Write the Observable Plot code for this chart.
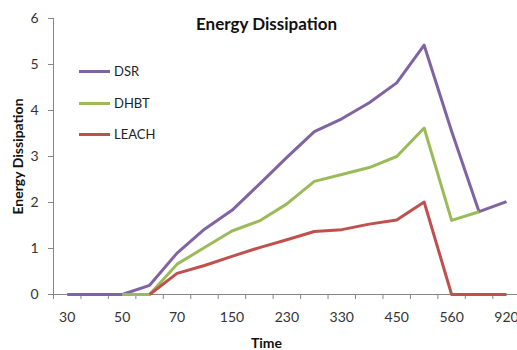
<!DOCTYPE html>
<html>
<head>
<meta charset="utf-8">
<script src="https://cdn.jsdelivr.net/npm/d3@7"></script>
<script src="https://cdn.jsdelivr.net/npm/@observablehq/plot@0.6"></script>
<style>
  html, body { margin: 0; padding: 0; background: #fff; }
  #wrap { position: relative; width: 517px; height: 350px; font-family: Lato, "Open Sans", sans-serif; }
  #legend { position: absolute; left: 79px; top: 62px; font-size: 13px; color: #222; }
  .item { position: relative; height: 31.5px; }
  .sw { position: absolute; left: 0; top: 8px; width: 31px; height: 3px; }
  .lab { position: absolute; left: 35px; top: 0; line-height: 18px; }
</style>
</head>
<body>
<div id="wrap"></div>
<script>
const categories = ["30","","50","","70","","150","","230","","330","","450","","560","","920"];
const seriesNames = ["DSR","DHBT","LEACH"];
const seriesColors = ["#8064A2","#9BBB59","#C0504D"];
const dsr   = [0, 0, 0, 0.2, 0.9, 1.42, 1.83, 2.4, 2.98, 3.54, 3.82, 4.17, 4.6, 5.42, 3.55, 1.8, 2.02];
const dhbt  = [null, null, 0, 0, 0.66, 1.02, 1.38, 1.6, 1.97, 2.46, 2.61, 2.76, 3.0, 3.62, 1.61, 1.8, null];
const leach = [null, null, null, 0, 0.46, 0.63, 0.83, 1.02, 1.19, 1.37, 1.41, 1.53, 1.62, 2.01, 0, 0, 0];
const yTicks = [0, 1, 2, 3, 4, 5, 6];

const values = [dsr, dhbt, leach];
const data = seriesNames.flatMap((s, k) =>
  values[k].map((v, i) => ({series: s, i, v})));

const labelTicks = categories.map((c, i) => c ? i : null).filter(i => i !== null);
const boundaries = d3.range(-0.5, categories.length, 1);

const chart = Plot.plot({
  width: 517,
  height: 350,
  marginLeft: 53,
  marginRight: 0,
  marginTop: 18,
  marginBottom: 56,
  style: {fontFamily: "Lato, 'Open Sans', sans-serif", background: "white", color: "#333"},
  x: {type: "linear", domain: [-0.5, categories.length - 0.6]},
  y: {domain: [0, 6]},
  color: {domain: seriesNames, range: seriesColors},
  marks: [
    Plot.axisY({ticks: yTicks, tickFormat: d3.format("d"), tickSize: 5, tickPadding: 10, fontSize: 14, label: null, stroke: "#868686", fill: "#333"}),
    Plot.axisX({ticks: labelTicks, tickFormat: i => categories[i], tickSize: 0, tickPadding: 18, fontSize: 14, label: null, fill: "#333"}),
    Plot.axisX({ticks: boundaries, tickFormat: () => "", tickSize: 5, label: null, stroke: "#868686"}),
    Plot.ruleX([-0.5], {stroke: "#868686"}),
    Plot.ruleY([0], {stroke: "#868686"}),
    Plot.line(data, {x: "i", y: "v", z: "series", stroke: "series", strokeWidth: 3, strokeLinejoin: "round", strokeLinecap: "butt"}),
    Plot.text(["Energy Dissipation"], {frameAnchor: "top", dx: -19, dy: -1, fontSize: 17, fontWeight: "bold", fill: "#111"}),
    Plot.text(["Energy Dissipation"], {frameAnchor: "left", textAnchor: "middle", rotate: -90, dx: -35, fontSize: 14, fontWeight: "bold", fill: "#111"}),
    Plot.text(["Time"], {frameAnchor: "bottom", dx: -19, dy: 53, fontSize: 14, fontWeight: "bold", fill: "#111"})
  ]
});

const wrap = document.getElementById("wrap");
wrap.appendChild(chart);
const legend = document.createElement("div");
legend.id = "legend";
seriesNames.forEach((s, k) => {
  const it = document.createElement("div");
  it.className = "item";
  it.innerHTML = `<span class="sw" style="background:${seriesColors[k]}"></span><span class="lab">${s}</span>`;
  legend.appendChild(it);
});
wrap.appendChild(legend);
</script>
</body>
</html>
